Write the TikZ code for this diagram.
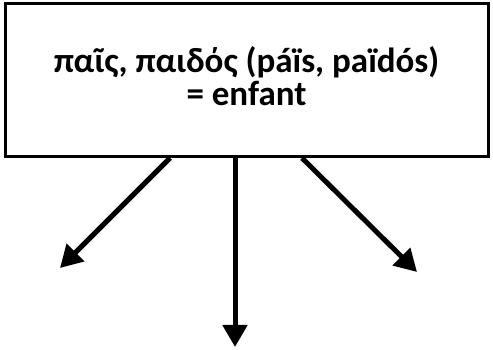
\documentclass[tikz,border=0pt]{standalone}
\usepackage{fontspec}
\setmainfont{Carlito}
\usetikzlibrary{arrows.meta}
\begin{document}
\begin{tikzpicture}[x=1pt,y=1pt,
  box/.style={draw=black,line width=3pt,minimum width=483pt,minimum height=153pt,inner sep=0pt},
  label text/.style={align=center,inner sep=0pt,font=\fontsize{35}{33}\selectfont\bfseries},
  arr/.style={draw=black,line width=5pt,-{Triangle[length=22pt,width=24pt]}}]
\useasboundingbox (0,0) rectangle (493,350);
\node[box] (b) at (246.5,270) {};
\node[label text] (t) at ([yshift=4pt]b.center) {παῖς, παιδός (páïs, païdós)\\= enfant};
\coordinate (l) at (60,82);
\coordinate (m) at (235,3);
\coordinate (r) at (417,78);
\draw[arr] ([xshift=-76.5pt]b.south) -- (l);
\draw[arr] ([xshift=-11.5pt]b.south) -- (m);
\draw[arr] ([xshift=55.5pt]b.south) -- (r);
\end{tikzpicture}
\end{document}
